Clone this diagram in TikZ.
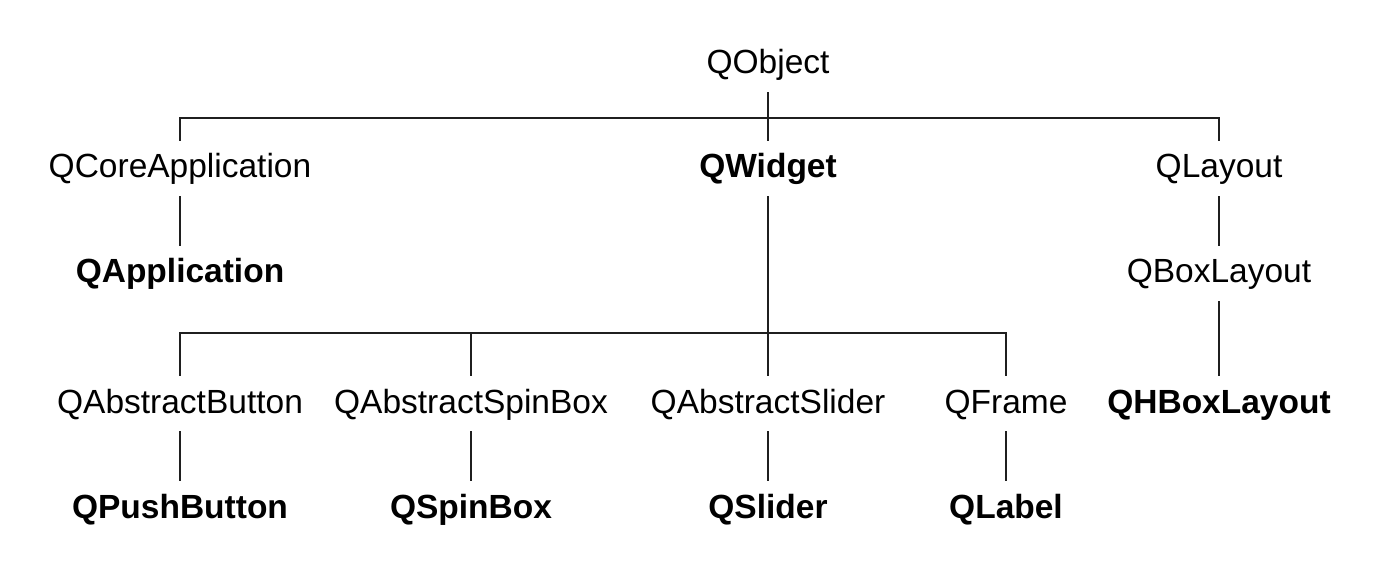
\documentclass[tikz,border=0pt]{standalone}
\usepackage{fontspec}
\setmainfont{Liberation Sans}
\tikzset{
  lbl/.style={anchor=base, inner xsep=0pt, inner ysep=7.5pt, text height=11pt, text depth=1.5pt, font=\fontsize{16.75}{20}\selectfont},
  blbl/.style={lbl, font=\fontsize{16.75}{20}\selectfont\bfseries},
  conn/.style={line width=1pt, color=black!88}
}
\begin{document}
\begin{tikzpicture}[x=0.5pt,y=-0.5pt]
\useasboundingbox (0,0) rectangle (1397,572);
\node[lbl] (obj) at (768,74) {QObject};
\node[lbl] (core) at (180,178) {QCoreApplication};
\node[blbl] (widget) at (768,178) {QWidget};
\node[lbl] (layout) at (1219,178) {QLayout};
\node[blbl] (app) at (180,283) {QApplication};
\node[lbl] (boxl) at (1219,283) {QBoxLayout};
\node[lbl] (abtn) at (180,413) {QAbstractButton};
\node[lbl] (aspin) at (471,413) {QAbstractSpinBox};
\node[lbl] (aslider) at (768,413) {QAbstractSlider};
\node[lbl] (frame) at (1006,413) {QFrame};
\node[blbl] (hbox) at (1219,413) {QHBoxLayout};
\node[blbl] (push) at (180,518) {QPushButton};
\node[blbl] (spin) at (471,518) {QSpinBox};
\node[blbl] (slider) at (768,518) {QSlider};
\node[blbl] (label) at (1006,518) {QLabel};
\coordinate (h1L) at (180,118);
\coordinate (h1R) at (1219,118);
\coordinate (h2L) at (180,333);
\coordinate (h2R) at (1006,333);
\draw[conn] (obj.south) -- (widget.north);
\draw[conn] (core.north) -- (h1L) -- (h1R) -- (layout.north);
\draw[conn] (core.south) -- (app.north);
\draw[conn] (layout.south) -- (boxl.north);
\draw[conn] (boxl.south) -- (hbox.north);
\draw[conn] (widget.south) -- (aslider.north);
\draw[conn] (abtn.north) -- (h2L) -- (h2R) -- (frame.north);
\draw[conn] (aspin.north) -- (aspin.north |- h2L);
\draw[conn] (abtn.south) -- (push.north);
\draw[conn] (aspin.south) -- (spin.north);
\draw[conn] (aslider.south) -- (slider.north);
\draw[conn] (frame.south) -- (label.north);
\end{tikzpicture}
\end{document}
